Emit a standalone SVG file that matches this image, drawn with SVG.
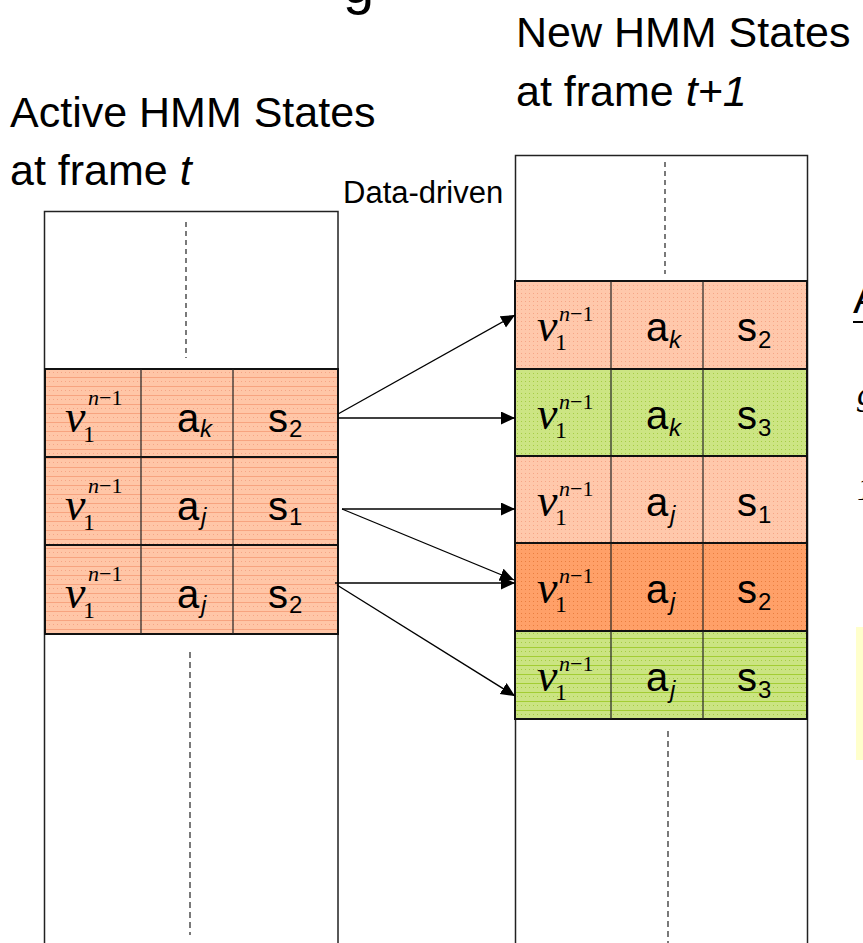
<svg xmlns="http://www.w3.org/2000/svg" width="863" height="943" viewBox="0 0 863 943">
<style>
.lbl{font-family:"Liberation Sans",Arial,sans-serif;font-size:43px;fill:#000}
.dd{font-family:"Liberation Sans",Arial,sans-serif;font-size:31px;fill:#000}
.v{font-family:"Liberation Serif","Times New Roman",serif;font-style:italic;font-size:46px;fill:#000}
.sup{font-family:"Liberation Serif","Times New Roman",serif;font-size:22px;fill:#000}
.vs{font-family:"Liberation Serif","Times New Roman",serif;font-size:24px;fill:#000}
.m{font-family:"Liberation Sans",Arial,sans-serif;font-size:40px;fill:#000}
.sb{font-family:"Liberation Sans",Arial,sans-serif;font-size:24px;fill:#000}
.it{font-style:italic}
.frame{fill:#fff;stroke:#222;stroke-width:1.5}
.dash{stroke:#333;stroke-width:1.3;stroke-dasharray:5 4;fill:none}
.row{stroke:#111;stroke-width:2}
.div{stroke:#222;stroke-width:1.2}
.arr{stroke:#000;stroke-width:1.3;fill:none;marker-end:url(#ah)}
</style>
<defs>
<marker id="ah" markerUnits="userSpaceOnUse" markerWidth="14" markerHeight="14" refX="14" refY="6.5" orient="auto">
<path d="M0,0 L14,6.5 L0,13 z" fill="#000"/>
</marker>
<pattern id="sDot" width="4" height="4" patternUnits="userSpaceOnUse"><rect width="4" height="4" fill="#FFC8AB"/><rect x="1" y="1" width="1" height="1" fill="#F5A586"/></pattern>
<pattern id="sStr" width="4" height="9" patternUnits="userSpaceOnUse"><rect width="4" height="9" fill="#FFC6A7"/><rect y="8" width="4" height="1" fill="#F7A37F"/><rect x="1" y="3" width="1" height="1" fill="#F5A586"/></pattern>
<pattern id="gDot" width="4" height="4" patternUnits="userSpaceOnUse"><rect width="4" height="4" fill="#CCE583"/><rect x="1" y="1" width="1" height="1" fill="#A6CC45"/></pattern>
<pattern id="gStr" width="4" height="9" patternUnits="userSpaceOnUse"><rect width="4" height="9" fill="#CBE482"/><rect y="8" width="4" height="1" fill="#A3CD33"/><rect x="1" y="3" width="1" height="1" fill="#A6CC45"/></pattern>
<pattern id="oDot" width="4" height="4" patternUnits="userSpaceOnUse"><rect width="4" height="4" fill="#FFA068"/><rect x="1" y="1" width="1" height="1" fill="#E97D3F"/></pattern>
</defs>
<rect width="863" height="943" fill="#fff"/>

<text class="lbl" x="343" y="3" style="font-size:56px">g</text>
<text class="lbl" x="516" y="47">New HMM States</text>
<text class="lbl" x="516" y="106">at frame <tspan class="it">t+1</tspan></text>
<text class="lbl" x="10" y="127">Active HMM States</text>
<text class="lbl" x="10" y="185">at frame <tspan class="it">t</tspan></text>
<text class="dd" x="343" y="203">Data-driven</text>

<g id="frame-t">
<rect class="frame" x="44.5" y="211.5" width="293.5" height="740"/>
<line class="dash" x1="186" y1="222" x2="186" y2="358"/>
<line class="dash" x1="190" y1="652" x2="190" y2="935" style="stroke-dasharray:6 4"/>
</g>
<g id="frame-t1">
<rect class="frame" x="515.5" y="155.5" width="292" height="800"/>
<line class="dash" x1="665" y1="162" x2="665" y2="274"/>
<line class="dash" x1="668" y1="731" x2="668" y2="943" style="stroke-dasharray:6 4"/>
</g>

<g id="L1">
<rect class="row" x="45" y="369" width="293" height="88" fill="url(#sStr)"/>
<line class="div" x1="141" y1="369" x2="141" y2="457"/><line class="div" x1="233" y1="369" x2="233" y2="457"/>
<text class="v" x="65" y="432">v</text><text class="sup" x="88" y="405"><tspan class="it">n</tspan>−1</text><text class="vs" x="83" y="442">1</text>
<text class="m" x="177" y="432">a</text><text class="sb it" x="200" y="437">k</text>
<text class="m" x="268" y="432">s</text><text class="sb" x="289" y="437">2</text>
</g>
<g id="L2">
<rect class="row" x="45" y="457" width="293" height="88" fill="url(#sStr)"/>
<line class="div" x1="141" y1="457" x2="141" y2="545"/><line class="div" x1="233" y1="457" x2="233" y2="545"/>
<text class="v" x="65" y="520">v</text><text class="sup" x="88" y="493"><tspan class="it">n</tspan>−1</text><text class="vs" x="83" y="530">1</text>
<text class="m" x="177" y="520">a</text><text class="sb it" x="201" y="525">j</text>
<text class="m" x="268" y="520">s</text><text class="sb" x="289" y="525">1</text>
</g>
<g id="L3">
<rect class="row" x="45" y="545" width="293" height="89" fill="url(#sStr)"/>
<line class="div" x1="141" y1="545" x2="141" y2="634"/><line class="div" x1="233" y1="545" x2="233" y2="634"/>
<text class="v" x="65" y="608">v</text><text class="sup" x="88" y="581"><tspan class="it">n</tspan>−1</text><text class="vs" x="83" y="618">1</text>
<text class="m" x="177" y="608">a</text><text class="sb it" x="201" y="613">j</text>
<text class="m" x="268" y="608">s</text><text class="sb" x="289" y="613">2</text>
</g>

<g id="R1">
<rect class="row" x="515" y="281" width="292" height="88" fill="url(#sDot)"/>
<line class="div" x1="611" y1="281" x2="611" y2="369"/><line class="div" x1="703" y1="281" x2="703" y2="369"/>
<text class="v" x="537" y="341">v</text><text class="sup" x="559" y="321"><tspan class="it">n</tspan>−1</text><text class="vs" x="555" y="350">1</text>
<text class="m" x="646" y="341">a</text><text class="sb it" x="669" y="348">k</text>
<text class="m" x="737" y="341">s</text><text class="sb" x="758" y="348">2</text>
</g>
<g id="R2">
<rect class="row" x="515" y="369" width="292" height="87" fill="url(#gDot)"/>
<line class="div" x1="611" y1="369" x2="611" y2="456"/><line class="div" x1="703" y1="369" x2="703" y2="456"/>
<text class="v" x="537" y="429">v</text><text class="sup" x="559" y="409"><tspan class="it">n</tspan>−1</text><text class="vs" x="555" y="438">1</text>
<text class="m" x="646" y="429">a</text><text class="sb it" x="669" y="436">k</text>
<text class="m" x="737" y="429">s</text><text class="sb" x="758" y="436">3</text>
</g>
<g id="R3">
<rect class="row" x="515" y="456" width="292" height="87" fill="url(#sDot)"/>
<line class="div" x1="611" y1="456" x2="611" y2="543"/><line class="div" x1="703" y1="456" x2="703" y2="543"/>
<text class="v" x="537" y="516">v</text><text class="sup" x="559" y="496"><tspan class="it">n</tspan>−1</text><text class="vs" x="555" y="525">1</text>
<text class="m" x="646" y="516">a</text><text class="sb it" x="670" y="523">j</text>
<text class="m" x="737" y="516">s</text><text class="sb" x="758" y="523">1</text>
</g>
<g id="R4">
<rect class="row" x="515" y="543" width="292" height="88" fill="url(#oDot)"/>
<line class="div" x1="611" y1="543" x2="611" y2="631"/><line class="div" x1="703" y1="543" x2="703" y2="631"/>
<text class="v" x="537" y="603">v</text><text class="sup" x="559" y="583"><tspan class="it">n</tspan>−1</text><text class="vs" x="555" y="612">1</text>
<text class="m" x="646" y="603">a</text><text class="sb it" x="670" y="610">j</text>
<text class="m" x="737" y="603">s</text><text class="sb" x="758" y="610">2</text>
</g>
<g id="R5">
<rect class="row" x="515" y="631" width="292" height="88" fill="url(#gStr)"/>
<line class="div" x1="611" y1="631" x2="611" y2="719"/><line class="div" x1="703" y1="631" x2="703" y2="719"/>
<text class="v" x="537" y="691">v</text><text class="sup" x="559" y="671"><tspan class="it">n</tspan>−1</text><text class="vs" x="555" y="700">1</text>
<text class="m" x="646" y="691">a</text><text class="sb it" x="670" y="698">j</text>
<text class="m" x="737" y="691">s</text><text class="sb" x="758" y="698">3</text>
</g>

<g id="connectors">
<line class="arr" x1="338" y1="414" x2="515" y2="315"/>
<line class="arr" x1="338" y1="418" x2="515" y2="418"/>
<line class="arr" x1="342" y1="509" x2="515" y2="509"/>
<line class="arr" x1="342" y1="509" x2="514" y2="580"/>
<line class="arr" x1="335" y1="583" x2="515" y2="583"/>
<line class="arr" x1="337" y1="585" x2="515" y2="696"/>
</g>

<g id="right-edge">
<text class="lbl" x="853" y="313">A</text>
<line x1="853" y1="322" x2="863" y2="322" stroke="#000" stroke-width="2"/>
<text class="v" x="857" y="405" style="font-size:34px">g</text>
<text class="v" x="857" y="500" style="font-size:34px">1</text>
<rect x="856" y="627" width="7" height="133" fill="#FFFFCC"/>
</g>
</svg>
